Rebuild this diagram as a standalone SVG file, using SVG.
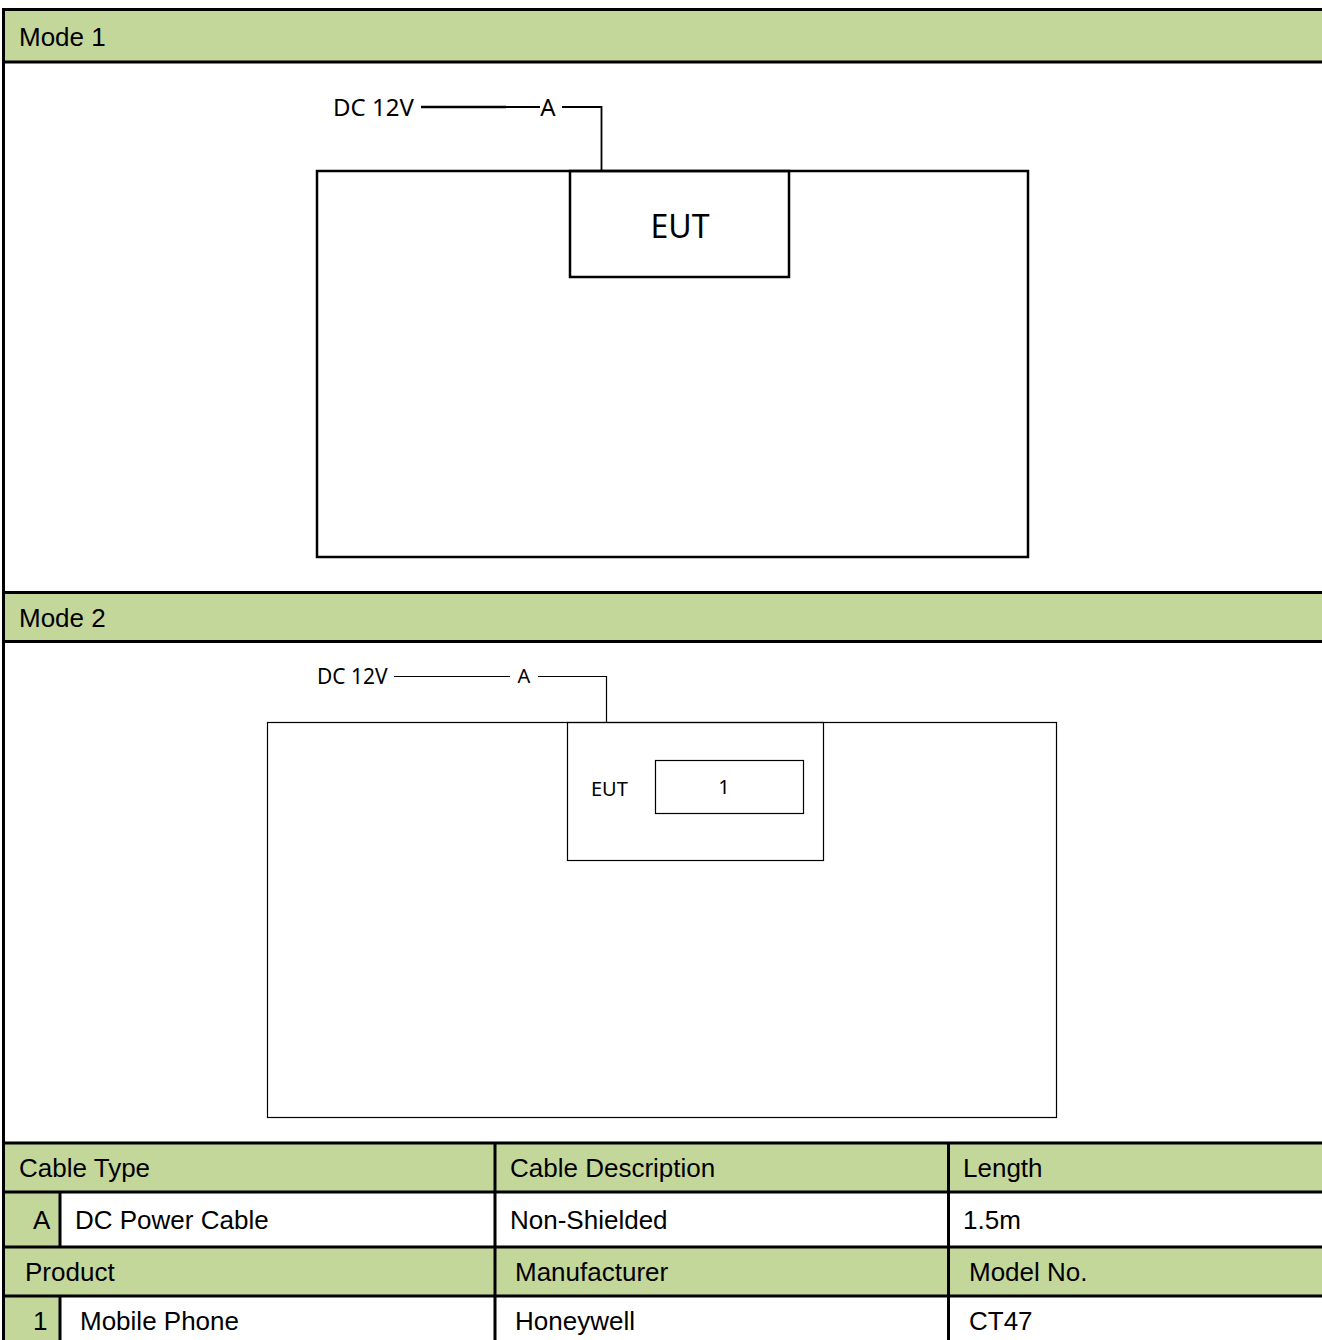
<svg xmlns="http://www.w3.org/2000/svg" width="1322" height="1340" viewBox="0 0 1322 1340">
<style>
.hdr{fill:#C4D79B}
.grid{stroke:#000;stroke-width:3;fill:none}
.tt{font-family:"Liberation Sans",Arial,sans-serif;font-size:26px;fill:#000}
.dg{font-family:"Noto Sans","Open Sans",sans-serif;fill:#000}
.box{fill:none;stroke:#000}
.wire{fill:none;stroke:#000}
</style>
<rect x="0" y="0" width="1322" height="1340" fill="#fff"/>
<g id="table-frame">
<rect class="hdr" x="4" y="10" width="1318" height="52"/>
<rect class="hdr" x="4" y="593" width="1318" height="48"/>
<rect class="hdr" x="4" y="1143" width="1318" height="49"/>
<rect class="hdr" x="4" y="1247" width="1318" height="49"/>
<rect class="hdr" x="4" y="1192" width="56" height="55"/>
<rect class="hdr" x="4" y="1296" width="56" height="44"/>
<path class="grid" d="M3.5 8V1340 M2 9.5H1322 M4 62H1322 M4 592.5H1322 M4 641.5H1322 M4 1143H1322 M4 1192H1322 M4 1247H1322 M4 1296H1322 M60 1192V1247 M60 1296V1340 M495 1143V1340 M948.5 1143V1340"/>
</g>
<g id="labels" class="tt">
<text x="19" y="46">Mode 1</text>
<text x="19" y="627">Mode 2</text>
<text x="19" y="1177">Cable Type</text>
<text x="510" y="1177">Cable Description</text>
<text x="963" y="1177">Length</text>
<text x="33" y="1229">A</text>
<text x="75" y="1229">DC Power Cable</text>
<text x="510" y="1229">Non-Shielded</text>
<text x="963" y="1229">1.5m</text>
<text x="25" y="1281">Product</text>
<text x="515" y="1281">Manufacturer</text>
<text x="969" y="1281">Model No.</text>
<text x="33" y="1330">1</text>
<text x="80" y="1330">Mobile Phone</text>
<text x="515" y="1330">Honeywell</text>
<text x="969" y="1330">CT47</text>
</g>
<g id="mode1-table">
<rect class="box" x="317" y="171" width="711" height="386" stroke-width="2.5"/>
</g>
<g id="mode1-eut">
<rect class="box" x="570" y="171" width="219" height="106" stroke-width="2.5"/>
<text class="dg" x="680" y="238" font-size="32" text-anchor="middle">EUT</text>
</g>
<g id="mode1-power">
<text class="dg" x="333" y="116" font-size="24">DC 12V</text>
</g>
<g id="mode2-table">
<rect class="box" x="267.5" y="722.5" width="789" height="395" stroke-width="1.2"/>
</g>
<g id="mode2-eut">
<rect class="box" x="567.5" y="722.5" width="256" height="138" stroke-width="1.2"/>
<text class="dg" x="591" y="796" font-size="20">EUT</text>
</g>
<g id="mode2-device1">
<rect class="box" x="655.5" y="760.5" width="148" height="53" stroke-width="1.2"/>
<text class="dg" x="724" y="794" font-size="20" text-anchor="middle">1</text>
</g>
<g id="mode2-power">
<text class="dg" x="317" y="684" font-size="21">DC 12V</text>
</g>
<g id="connectors">
<path class="wire" d="M421 107H506" stroke-width="2.5"/>
<path class="wire" d="M506 107H540" stroke-width="1.8"/>
<text class="dg" x="548" y="116" font-size="24" text-anchor="middle">A</text>
<path class="wire" d="M562 107H601.5V171" stroke-width="1.8"/>
<path class="wire" d="M394 676.5H510" stroke-width="1.2"/>
<text class="dg" x="524" y="683" font-size="20" text-anchor="middle">A</text>
<path class="wire" d="M538 676.5H606.5V722" stroke-width="1.2"/>
</g>
</svg>
